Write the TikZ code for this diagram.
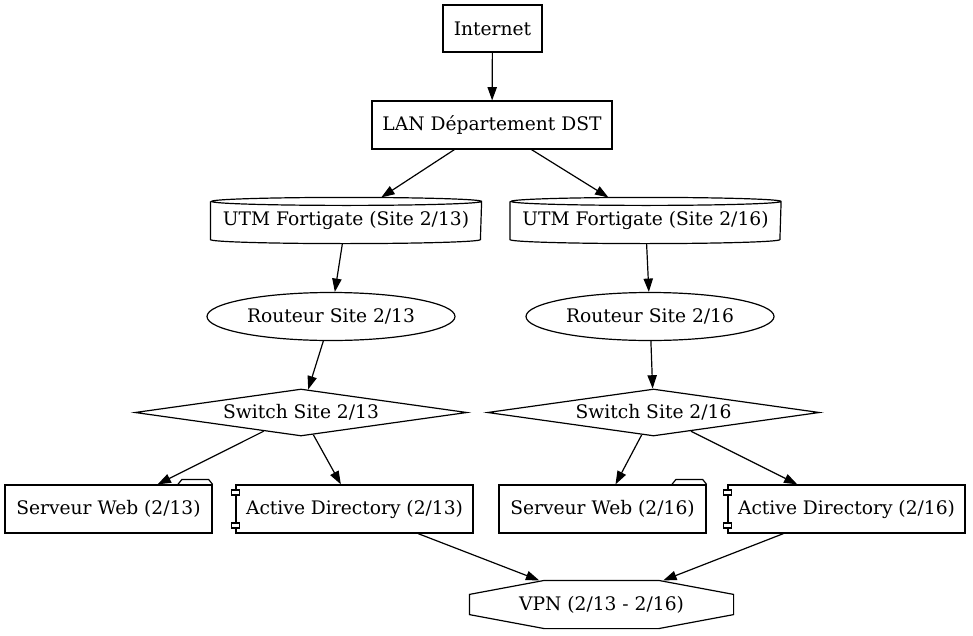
\documentclass[tikz,border=0pt]{standalone}
\usepackage{fontspec}
\setmainfont{DejaVu Serif}
\usetikzlibrary{shapes.geometric}
\usetikzlibrary{arrows.meta}

\begin{document}
\begin{tikzpicture}[x=0.75pt, y=-0.75pt, line width=0.9pt,
  font=\fontsize{14}{16}\selectfont,
  box/.style={rectangle, draw=black, inner sep=0pt, minimum height=36pt},
  utm/.style={rectangle, inner sep=0pt, minimum width=202.5pt, minimum height=33.75pt},
  routeur/.style={ellipse, draw=black, inner sep=0pt, minimum width=186pt, minimum height=36pt},
  switch/.style={diamond, draw=black, inner sep=0pt, aspect=7, minimum width=249pt, minimum height=35.25pt},
  arr/.style={draw=black, -{Triangle[length=10pt,width=7pt]}}]

\useasboundingbox (0,0) rectangle (973,635);

\node at (492.5,28.5) [box, minimum width=74.25pt, minimum height=35.25pt] (internet) {Internet};
\node at (492,125) [box, minimum width=180pt] (lan) {LAN Département DST};

% cylindres UTM
\node at (346,220.5) [utm] (utmA) {UTM Fortigate (Site 2/13)};
\node at (645.5,220.5) [utm] (utmB) {UTM Fortigate (Site 2/16)};
\foreach \n in {utmA,utmB}{
  \draw ([yshift=-3pt]\n.north west) -- ([yshift=3pt]\n.south west)
    arc[start angle=180, end angle=360, x radius=101.25pt, y radius=3pt]
    -- ([yshift=-3pt]\n.north east)
    arc[start angle=0, end angle=180, x radius=101.25pt, y radius=3pt]
    arc[start angle=180, end angle=360, x radius=101.25pt, y radius=3pt];
}

\node at (331,316.5) [routeur] (routA) {Routeur Site 2/13};
\node at (650,316.5) [routeur] (routB) {Routeur Site 2/16};

\node at (301,412.5) [switch] (switchA) {Switch Site 2/13};
\node at (653.5,412.5) [switch] (switchB) {Switch Site 2/16};

% serveurs web (dossiers)
\node at (108.5,509) [box, minimum width=155.25pt] (webA) {Serveur Web (2/13)};
\node at (602.5,509) [box, minimum width=155.25pt] (webB) {Serveur Web (2/16)};
\foreach \n in {webA,webB}{
  \draw ([xshift=-26pt]\n.north east) -- ++(3pt,3.75pt) -- ([xshift=-3pt,yshift=3.75pt]\n.north east) -- (\n.north east);
}

% active directory (composants)
\node at (354.5,509) [box, minimum width=177.75pt] (adA) {Active Directory (2/13)};
\node at (846.5,509) [box, minimum width=177.75pt] (adB) {Active Directory (2/16)};
\foreach \n in {adA,adB}{
  \draw[fill=white] ([xshift=-3pt,yshift=-4.25pt]\n.north west) rectangle ++(6pt,-3.75pt);
  \draw[fill=white] ([xshift=-3pt,yshift=4.25pt]\n.south west) rectangle ++(6pt,3.75pt);
}

% octogone VPN
\node at (601.5,604.5) [rectangle, inner sep=0pt, minimum width=197.25pt, minimum height=35.25pt] (vpn) {VPN (2/13 - 2/16)};
\draw ([xshift=56.25pt]vpn.north west) -- ([xshift=-56.25pt]vpn.north east) -- ([yshift=-10.5pt]vpn.north east)
  -- ([yshift=10.5pt]vpn.south east) -- ([xshift=-56.25pt]vpn.south east) -- ([xshift=56.25pt]vpn.south west)
  -- ([yshift=10.5pt]vpn.south west) -- ([yshift=-10.5pt]vpn.north west) -- cycle;

\draw[arr] (internet) -- (lan);
\draw[arr] (lan) -- (utmA);
\draw[arr] (lan) -- (utmB);
\draw[arr] (utmA) -- (routA);
\draw[arr] (utmB) -- (routB);
\draw[arr] (routA) -- (switchA);
\draw[arr] (routB) -- (switchB);
\draw[arr] (switchA) -- (webA);
\draw[arr] (switchA) -- (adA);
\draw[arr] (switchB) -- (webB);
\draw[arr] (switchB) -- (adB);
\draw[arr] (adA) -- (vpn);
\draw[arr] (adB) -- (vpn);

\end{tikzpicture}
\end{document}
